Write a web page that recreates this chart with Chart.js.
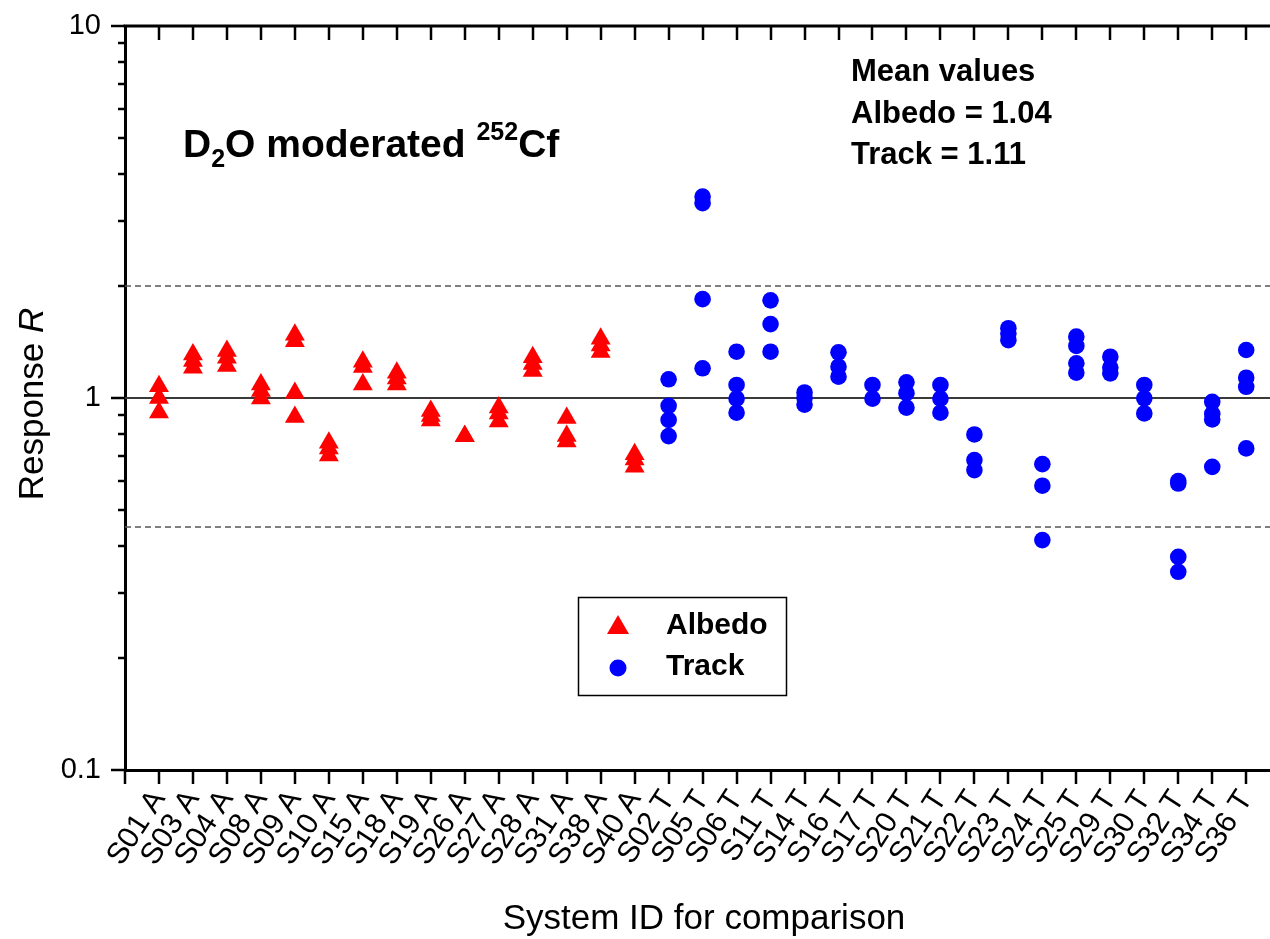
<!DOCTYPE html>
<html>
<head>
<meta charset="utf-8">
<script src="https://cdn.jsdelivr.net/npm/chart.js@4.4.1/dist/chart.umd.min.js"></script>
<style>
html,body{margin:0;padding:0;background:#fff;overflow:hidden}
#wrap{width:1270px;height:939px;position:relative}
</style>
</head>
<body>
<div id="wrap"><canvas id="c" width="1270" height="939"></canvas></div>
<script>
// ---------- data ----------
const albedoIds = ['S01 A','S03 A','S04 A','S08 A','S09 A','S10 A','S15 A','S18 A','S19 A','S26 A','S27 A','S28 A','S31 A','S38 A','S40 A'];
const trackIds  = ['S02 T','S05 T','S06 T','S11 T','S14 T','S16 T','S17 T','S20 T','S21 T','S22 T','S23 T','S24 T','S25 T','S29 T','S30 T','S32 T','S34 T','S36 T'];
const categories = albedoIds.concat(trackIds);

const albedoValues = [
  [1.075, 1.00, 0.914],
  [1.31, 1.257, 1.206],
  [1.337, 1.283, 1.219],
  [1.087, 1.044, 0.997],
  [1.48, 1.42, 1.032, 0.889],
  [0.758, 0.731, 0.70],
  [1.251, 1.211, 1.087],
  [1.17, 1.128, 1.087],
  [0.922, 0.894, 0.87],
  [0.789, 0.789],
  [0.943, 0.908, 0.865],
  [1.286, 1.234, 1.182],
  [0.883, 0.791, 0.764],
  [1.443, 1.385, 1.329],
  [0.706, 0.683, 0.653]
];
const trackValues = [
  [1.123, 0.953, 0.873, 0.790],
  [3.48, 3.34, 1.844, 1.202],
  [1.332, 1.084, 0.996, 0.913],
  [1.83, 1.58, 1.332],
  [1.035, 1.0, 0.96],
  [1.327, 1.214, 1.141],
  [1.084, 0.996],
  [1.102, 1.03, 0.942],
  [1.084, 0.996, 0.913],
  [0.798, 0.681, 0.640],
  [1.54, 1.49, 1.43],
  [0.664, 0.581, 0.415],
  [1.462, 1.38, 1.24, 1.17],
  [1.291, 1.207, 1.165],
  [1.084, 0.998, 0.909],
  [0.598, 0.589, 0.374, 0.341],
  [0.977, 0.906, 0.876, 0.653],
  [1.346, 1.134, 1.072, 0.732]
];
const meanAlbedo = '1.04';
const meanTrack = '1.11';
const yMajorTicks = [0.1, 1, 10];
const yTickLabels = ['0.1', '1', '10'];
const yMinorTicks = [0.2,0.3,0.4,0.5,0.6,0.7,0.8,0.9,2,3,4,5,6,7,8,9];
const upperLimit = 2.0;
const lowerLimit = 0.45;
const unity = 1.0;

// ---------- build ----------
const FONT = '"Liberation Sans", Arial, Helvetica, sans-serif';
const albedoPoints = [];
albedoValues.forEach((vals, i) => vals.forEach(v => albedoPoints.push({x: i + 1, y: v})));
const trackPoints = [];
trackValues.forEach((vals, i) => vals.forEach(v => trackPoints.push({x: albedoIds.length + i + 1, y: v})));
const xMax = 33.7;
const hLine = v => [{x: 0, y: v}, {x: xMax, y: v}];

const decor = {
  id: 'decor',
  afterDraw(chart) {
    const {ctx, chartArea: a, scales: {x, y}} = chart;
    ctx.save();
    ctx.strokeStyle = '#000';
    ctx.lineCap = 'butt';
    const seg = (x1, y1, x2, y2) => { ctx.beginPath(); ctx.moveTo(x1, y1); ctx.lineTo(x2, y2); ctx.stroke(); };
    // top frame
    ctx.lineWidth = 3;
    seg(a.left - 1.5, a.top, a.right, a.top);
    // x ticks bottom (outward) and top (inward)
    ctx.lineWidth = 2.5;
    for (let i = 0; i <= categories.length; i++) {
      const px = Math.round(x.getPixelForValue(i));
      seg(px, a.bottom, px, a.bottom + 14);
      if (i > 0) seg(px, a.top, px, a.top + 14);
    }
    // y ticks
    yMajorTicks.forEach(v => { const py = Math.round(y.getPixelForValue(v)); seg(a.left - 14, py, a.left, py); });
    yMinorTicks.forEach(v => { const py = Math.round(y.getPixelForValue(v)); seg(a.left - 7, py, a.left, py); });

    ctx.fillStyle = '#000';
    ctx.textBaseline = 'alphabetic';
    ctx.textAlign = 'left';
    // D2O moderated 252Cf
    let cx = 183;
    const big = 'bold 39px ' + FONT, small = 'bold 25px ' + FONT;
    const put = (t, f, yy) => { ctx.font = f; ctx.fillText(t, cx, yy); cx += ctx.measureText(t).width; };
    put('D', big, 157);
    put('2', small, 167);
    put('O moderated ', big, 157);
    put('252', small, 140);
    put('Cf', big, 157);

    // mean values
    ctx.font = 'bold 31px ' + FONT;
    ctx.fillText('Mean values', 851, 81);
    ctx.fillText('Albedo = ' + meanAlbedo, 851, 123);
    ctx.fillText('Track = ' + meanTrack, 851, 164);

    // legend
    ctx.lineWidth = 1.5;
    ctx.strokeRect(578.5, 597.5, 208, 98);
    ctx.fillStyle = '#ff0000';
    ctx.beginPath();
    ctx.moveTo(618, 615); ctx.lineTo(629, 634); ctx.lineTo(607, 634); ctx.closePath(); ctx.fill();
    ctx.fillStyle = '#0000ff';
    ctx.beginPath(); ctx.arc(618, 668, 8.5, 0, Math.PI * 2); ctx.fill();
    ctx.fillStyle = '#000';
    ctx.font = 'bold 30px ' + FONT;
    ctx.textBaseline = 'middle';
    ctx.fillText('Albedo', 666, 626);
    ctx.fillText('Track', 666, 667);

    // axis titles
    ctx.textBaseline = 'alphabetic';
    ctx.font = '35px ' + FONT;
    ctx.textAlign = 'center';
    ctx.fillText('System ID for comparison', 704, 929);
    ctx.save();
    ctx.translate(43, 404);
    ctx.rotate(-Math.PI / 2);
    ctx.font = '35px ' + FONT;
    const w1 = ctx.measureText('Response ').width;
    ctx.font = 'italic 35px ' + FONT;
    const w2 = ctx.measureText('R').width;
    const start = -(w1 + w2) / 2;
    ctx.textAlign = 'left';
    ctx.font = '35px ' + FONT;
    ctx.fillText('Response ', start, 0);
    ctx.font = 'italic 35px ' + FONT;
    ctx.fillText('R', start + w1, 0);
    ctx.restore();
    ctx.restore();
  }
};

new Chart(document.getElementById('c'), {
  type: 'scatter',
  data: {
    datasets: [
      {label: 'Albedo', data: albedoPoints, pointStyle: 'triangle', pointRadius: 11.5, pointHoverRadius: 11.5,
       backgroundColor: '#ff0000', borderColor: '#ff0000', borderWidth: 0, order: 1},
      {label: 'Track', data: trackPoints, pointStyle: 'circle', pointRadius: 8.3, pointHoverRadius: 8.3,
       backgroundColor: '#0000ff', borderColor: '#0000ff', borderWidth: 0, order: 2},
      {type: 'line', label: 'unity', data: hLine(unity), borderColor: '#3a3a3a', borderWidth: 2,
       pointRadius: 0, fill: false, order: 10},
      {type: 'line', label: 'upper', data: hLine(upperLimit), borderColor: '#555', borderWidth: 1.3,
       borderDash: [6, 4], pointRadius: 0, fill: false, order: 10},
      {type: 'line', label: 'lower', data: hLine(lowerLimit), borderColor: '#555', borderWidth: 1.3,
       borderDash: [6, 4], pointRadius: 0, fill: false, order: 10}
    ]
  },
  options: {
    responsive: false,
    animation: false,
    devicePixelRatio: 1,
    layout: {autoPadding: false, padding: {top: 26, right: 0, left: 0, bottom: 0}},
    plugins: {legend: {display: false}, tooltip: {enabled: false}, title: {display: false}},
    scales: {
      x: {
        type: 'linear', min: 0, max: xMax,
        afterBuildTicks: s => { s.ticks = [0].concat(categories.map((c, i) => i + 1)).map(v => ({value: v})); },
        afterFit: s => { s.height = 169; s.paddingLeft = 0; s.paddingRight = 0; },
        ticks: {
          autoSkip: false, minRotation: 57, maxRotation: 57, padding: 14,
          color: '#000', font: {family: FONT, size: 30},
          callback: v => categories[v - 1] || ''
        },
        grid: {display: false, drawTicks: false},
        border: {display: true, color: '#000', width: 3}
      },
      y: {
        type: 'logarithmic', min: 0.1, max: 10,
        afterBuildTicks: s => { s.ticks = yMajorTicks.map(v => ({value: v, major: true})); },
        afterFit: s => { s.width = 125; s.paddingTop = 0; s.paddingBottom = 0; },
        ticks: {
          padding: 24, color: '#000', font: {family: FONT, size: 29},
          callback: v => { const i = yMajorTicks.findIndex(t => Math.abs(t - v) < 1e-9); return i >= 0 ? yTickLabels[i] : ''; }
        },
        grid: {display: false, drawTicks: false},
        border: {display: true, color: '#000', width: 3}
      }
    }
  },
  plugins: [decor]
});
</script>
</body>
</html>
